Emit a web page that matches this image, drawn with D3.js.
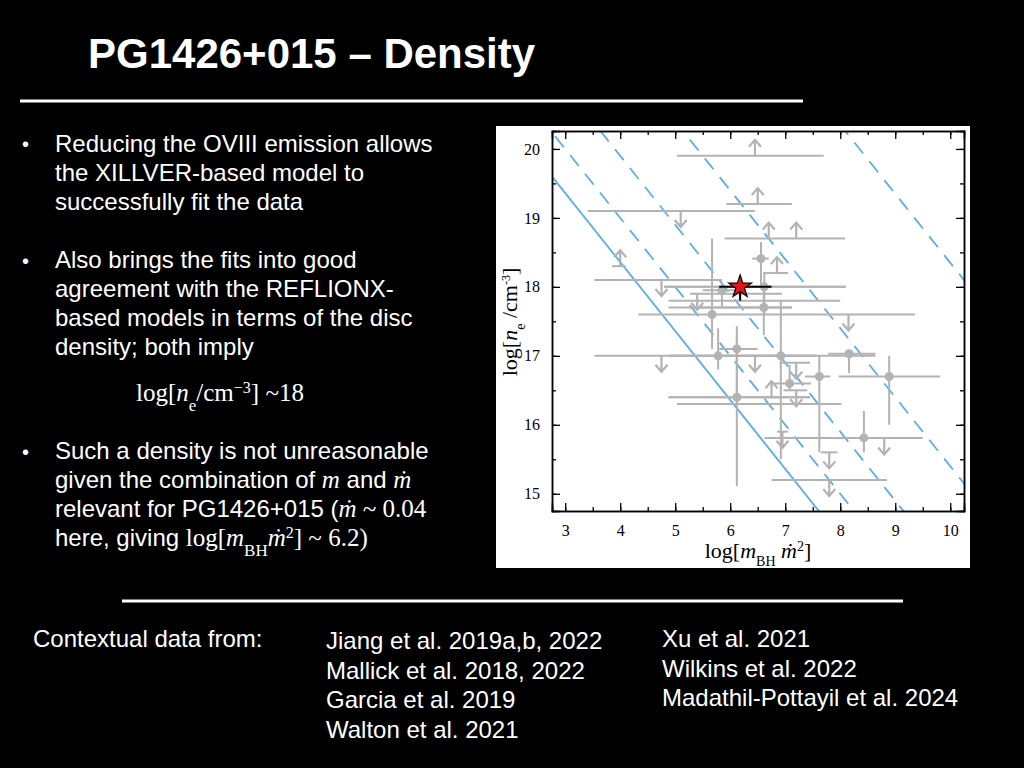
<!DOCTYPE html>
<html>
<head>
<meta charset="utf-8">
<script src="https://cdn.jsdelivr.net/npm/d3@7"></script>
<style>
  body { margin: 0; background: #000; }
  svg text { fill: #fff; }
</style>
</head>
<body>
<svg id="slide" width="1024" height="768"></svg>
<script>
// detections: x, y, x error range, y error range
const pointX   = [6.56, 6.62, 5.67, 6.61, 5.78, 6.12, 6.92, 7.08, 7.62, 8.16, 8.89, 6.12, 8.43, 5.85]
const pointY   = [18.41, 18.0, 17.6, 17.7, 17.0, 17.1, 17.0, 16.6, 16.7, 17.03, 16.7, 16.4, 15.81, 17.95]
const pointXlo = [6.4, 4.8, 4.33, 4.88, 4.88, 5.8, 6.7, 6.8, 7.36, 7.78, 7.97, 4.88, 6.62, 5.5]
const pointXhi = [6.7, 8.1, 6.8, 7.12, 7.55, 6.5, 7.1, 7.47, 7.82, 8.64, 9.82, 7.45, 9.5, 6.1]
const pointYlo = [18.0, 17.6, 17.1, 17.3, 16.8, 16.4, 15.5, 16.5, 15.6, 16.75, 16.0, 15.11, 15.6, 17.7]
const pointYhi = [18.65, 18.2, 18.7, 18.0, 17.4, 17.43, 17.8, 16.87, 17.0, 17.03, 17.0, 17.26, 16.2, 18.05]

// lower limits (up arrows)
const upX   = [6.45, 6.5, 6.7, 7.2, 4.0, 6.85, 6.75]
const upY   = [19.9, 19.2, 18.7, 18.7, 18.3, 18.2, 16.4]
const upXlo = [5.03, 5.93, 5.9, 7.2, 3.85, 6.6, 6.6]
const upXhi = [7.7, 7.12, 8.09, 7.2, 4.1, 7.05, 6.9]

// upper limits (down arrows)
const downX   = [5.1, 4.75, 5.4, 8.15, 4.75, 6.45, 7.2, 7.2, 6.95, 8.8, 7.8, 7.8]
const downY   = [19.1, 18.1, 17.9, 17.6, 17.0, 17.0, 16.9, 16.5, 15.9, 15.8, 15.6, 15.2]
const downXlo = [3.41, 3.53, 5.27, 6.8, 3.53, 4.88, 6.9, 6.97, 6.85, 8.8, 7.65, 6.75]
const downXhi = [6.45, 5.85, 6.94, 9.36, 8.64, 7.55, 7.45, 7.4, 7.05, 8.8, 7.95, 8.85]

// extra horizontal error bars
const barY  = [18.0, 17.8, 17.7, 16.3, 16.4]
const barLo = [4.8, 4.88, 5.3, 5.03, 4.88]
const barHi = [8.1, 8.0, 7.12, 8.02, 7.45]

// PG1426+015
const starX = 6.18, starY = 18.0
const starXerr = [5.8, 6.75], starYerr = [17.8, 18.15]

// lines log n = C - x
const solidC = 22.36
const dashedC = [23.0, 23.9, 25.4, 28.35]

const svg = d3.select("#slide")
svg.append("rect").attr("width", 1024).attr("height", 768).attr("fill", "#000")

svg.append("text").attr("x", 88).attr("y", 68)
  .style("font", "bold 42px 'Liberation Sans', Arial").text("PG1426+015 – Density")
svg.append("line").attr("x1", 20).attr("x2", 803).attr("y1", 101).attr("y2", 101)
  .attr("stroke", "#fff").attr("stroke-width", 3)
svg.append("line").attr("x1", 122).attr("x2", 903).attr("y1", 601).attr("y2", 601)
  .attr("stroke", "#fff").attr("stroke-width", 3)

const sans = "24px 'Liberation Sans', Arial"
const serif = "'Liberation Serif', 'Times New Roman', serif"

function textLine(x, y, parts) {
  const t = svg.append("text").attr("x", x).attr("y", y).style("font", sans)
  parts.forEach(p => {
    if (typeof p === "string") t.append("tspan").text(p)
    else {
      const s = t.append("tspan").text(p.t).style("font-family", serif).style("font-size", "25px")
      if (p.i) s.style("font-style", "italic")
      if (p.sub) s.attr("baseline-shift", "sub").style("font-size", "17px")
      if (p.sup) s.attr("baseline-shift", "super").style("font-size", "16px")
    }
  })
  return t
}

const bullets = [151, 268, 459]
bullets.forEach(b => svg.append("text").attr("x", 22).attr("y", b).style("font", "20px 'Liberation Sans', Arial").text("•"))

textLine(55, 152, ["Reducing the OVIII emission allows"])
textLine(55, 181, ["the XILLVER-based model to"])
textLine(55, 210, ["successfully fit the data"])
textLine(55, 268, ["Also brings the fits into good"])
textLine(55, 297, ["agreement with the REFLIONX-"])
textLine(55, 326, ["based models in terms of the disc"])
textLine(55, 355, ["density; both imply"])
textLine(136, 401, [{ t: "log[" }, { t: "n", i: 1 }, { t: "e", sub: 1 }, { t: "/cm" }, { t: "−3", sup: 1 }, { t: "] ~18" }])
textLine(55, 459, ["Such a density is not unreasonable"])
textLine(55, 488, ["given the combination of ", { t: "m", i: 1 }, " and ", { t: "ṁ", i: 1 }])
textLine(55, 517, ["relevant for PG1426+015 (", { t: "ṁ", i: 1 }, { t: " ~ 0.04" }])
textLine(55, 546, ["here, giving ", { t: "log[" }, { t: "m", i: 1 }, { t: "BH", sub: 1 }, { t: "ṁ", i: 1 }, { t: "2", sup: 1 }, { t: "] ~ 6.2)" }])

textLine(33, 647, ["Contextual data from:"])
const refsA = ["Jiang et al. 2019a,b, 2022", "Mallick et al. 2018, 2022", "Garcia et al. 2019", "Walton et al. 2021"]
const refsB = ["Xu et al. 2021", "Wilkins et al. 2022", "Madathil-Pottayil et al. 2024"]
refsA.forEach((r, i) => textLine(326, 649 + i * 29.5, [r]))
refsB.forEach((r, i) => textLine(662, 647 + i * 29.5, [r]))

// chart panel
svg.append("rect").attr("x", 496).attr("y", 126).attr("width", 474).attr("height", 442).attr("fill", "#fff")
const x = d3.scaleLinear().domain([2.76, 10.25]).range([552, 964])
const y = d3.scaleLinear().domain([14.75, 20.26]).range([511, 131])

const plot = svg.append("g")
plot.append("clipPath").attr("id", "clip").append("rect")
  .attr("x", 552).attr("y", 131).attr("width", 412).attr("height", 380)
const inner = plot.append("g").attr("clip-path", "url(#clip)")

const blue = "#5aaee6"
const lineFor = C => [[2.0, C - 2.0], [11, C - 11]]
inner.append("line").datum(lineFor(solidC))
  .attr("x1", d => x(d[0][0])).attr("y1", d => y(d[0][1]))
  .attr("x2", d => x(d[1][0])).attr("y2", d => y(d[1][1]))
  .attr("stroke", blue).attr("stroke-width", 1.8)
inner.selectAll(".dash").data(dashedC.map(lineFor)).join("line")
  .attr("x1", d => x(d[0][0])).attr("y1", d => y(d[0][1]))
  .attr("x2", d => x(d[1][0])).attr("y2", d => y(d[1][1]))
  .attr("stroke", blue).attr("stroke-width", 1.8).attr("stroke-dasharray", "14,10")

const grey = "#b3b3b3"
function hbar(lo, hi, yy) {
  inner.append("line").attr("x1", x(lo)).attr("x2", x(hi)).attr("y1", y(yy)).attr("y2", y(yy))
    .attr("stroke", grey).attr("stroke-width", 2)
}
barY.forEach((v, i) => hbar(barLo[i], barHi[i], v))

function arrow(xx, yy, dir) {
  const px = x(xx), py = y(yy), len = 16 * dir
  inner.append("path")
    .attr("d", `M${px},${py} L${px},${py - len} M${px - 6},${py - len + 7 * dir} L${px},${py - len} L${px + 6},${py - len + 7 * dir}`)
    .attr("stroke", grey).attr("stroke-width", 2.2).attr("fill", "none")
}
upX.forEach((v, i) => { hbar(upXlo[i], upXhi[i], upY[i]); arrow(v, upY[i], 1) })
downX.forEach((v, i) => { hbar(downXlo[i], downXhi[i], downY[i]); arrow(v, downY[i], -1) })

pointX.forEach((v, i) => {
  hbar(pointXlo[i], pointXhi[i], pointY[i])
  inner.append("line").attr("x1", x(v)).attr("x2", x(v))
    .attr("y1", y(pointYlo[i])).attr("y2", y(pointYhi[i])).attr("stroke", grey).attr("stroke-width", 2)
  inner.append("circle").attr("cx", x(v)).attr("cy", y(pointY[i])).attr("r", 4.5).attr("fill", grey)
})

// star
inner.append("line").attr("x1", x(starXerr[0])).attr("x2", x(starXerr[1]))
  .attr("y1", y(starY)).attr("y2", y(starY)).attr("stroke", "#000").attr("stroke-width", 2)
inner.append("line").attr("x1", x(starX)).attr("x2", x(starX))
  .attr("y1", y(starYerr[0])).attr("y2", y(starYerr[1])).attr("stroke", "#000").attr("stroke-width", 2)
inner.append("path").attr("d", d3.symbol(d3.symbolStar, 160)())
  .attr("transform", `translate(${x(starX)},${y(starY)})`)
  .attr("fill", "#e8141b").attr("stroke", "#000").attr("stroke-width", 1.2)

// axes with inward ticks on all sides
const axisFont = g => g.selectAll("text").style("font", `16px ${serif}`).style("fill", "#000")
const xt = d3.range(3, 11), yt = d3.range(15, 21)
const xm = d3.range(3, 10.3, 0.5), ym = d3.range(15, 20.3, 0.5)
plot.append("g").attr("transform", "translate(0,511)")
  .call(d3.axisBottom(x).tickValues(xm).tickSize(-4).tickFormat(""))
plot.append("g").attr("transform", "translate(0,511)")
  .call(d3.axisBottom(x).tickValues(xt).tickSize(-8).tickPadding(14).tickFormat(d3.format("d"))).call(axisFont)
plot.append("g").attr("transform", "translate(0,131)")
  .call(d3.axisTop(x).tickValues(xm).tickSize(-4).tickFormat(""))
plot.append("g").attr("transform", "translate(0,131)")
  .call(d3.axisTop(x).tickValues(xt).tickSize(-8).tickFormat(""))
plot.append("g").attr("transform", "translate(552,0)")
  .call(d3.axisLeft(y).tickValues(ym).tickSize(-4).tickFormat(""))
plot.append("g").attr("transform", "translate(552,0)")
  .call(d3.axisLeft(y).tickValues(yt).tickSize(-8).tickPadding(12).tickFormat(d3.format("d"))).call(axisFont)
plot.append("g").attr("transform", "translate(964,0)")
  .call(d3.axisRight(y).tickValues(ym).tickSize(-4).tickFormat(""))
plot.append("g").attr("transform", "translate(964,0)")
  .call(d3.axisRight(y).tickValues(yt).tickSize(-8).tickFormat(""))
plot.selectAll(".domain").attr("stroke", "#000").attr("stroke-width", 1.5)
plot.selectAll(".tick line").attr("stroke", "#000").attr("stroke-width", 1.3)

const xl = svg.append("text").attr("x", 758).attr("y", 558).attr("text-anchor", "middle")
  .style("font", `22px ${serif}`).style("fill", "#000")
xl.append("tspan").text("log[").style("fill", "#000")
xl.append("tspan").text("m").style("font-style", "italic").style("fill", "#000")
xl.append("tspan").text("BH").attr("baseline-shift", "sub").style("font-size", "14px").style("fill", "#000")
xl.append("tspan").text(" ṁ").style("font-style", "italic").style("fill", "#000")
xl.append("tspan").text("2").attr("baseline-shift", "super").style("font-size", "14px").style("fill", "#000")
xl.append("tspan").text("]").attr("baseline-shift", "0").style("fill", "#000")

const yl = svg.append("text").attr("transform", "translate(517,322) rotate(-90)").attr("text-anchor", "middle")
  .style("font", `22px ${serif}`).style("fill", "#000")
yl.append("tspan").text("log[").style("fill", "#000")
yl.append("tspan").text("n").style("font-style", "italic").style("fill", "#000")
yl.append("tspan").text("e").attr("baseline-shift", "sub").style("font-size", "14px").style("fill", "#000")
yl.append("tspan").text(" /cm").attr("baseline-shift", "0").style("fill", "#000")
yl.append("tspan").text("-3").attr("baseline-shift", "super").style("font-size", "12px").style("fill", "#000")
yl.append("tspan").text("]").attr("baseline-shift", "0").style("fill", "#000")
</script>
</body>
</html>
